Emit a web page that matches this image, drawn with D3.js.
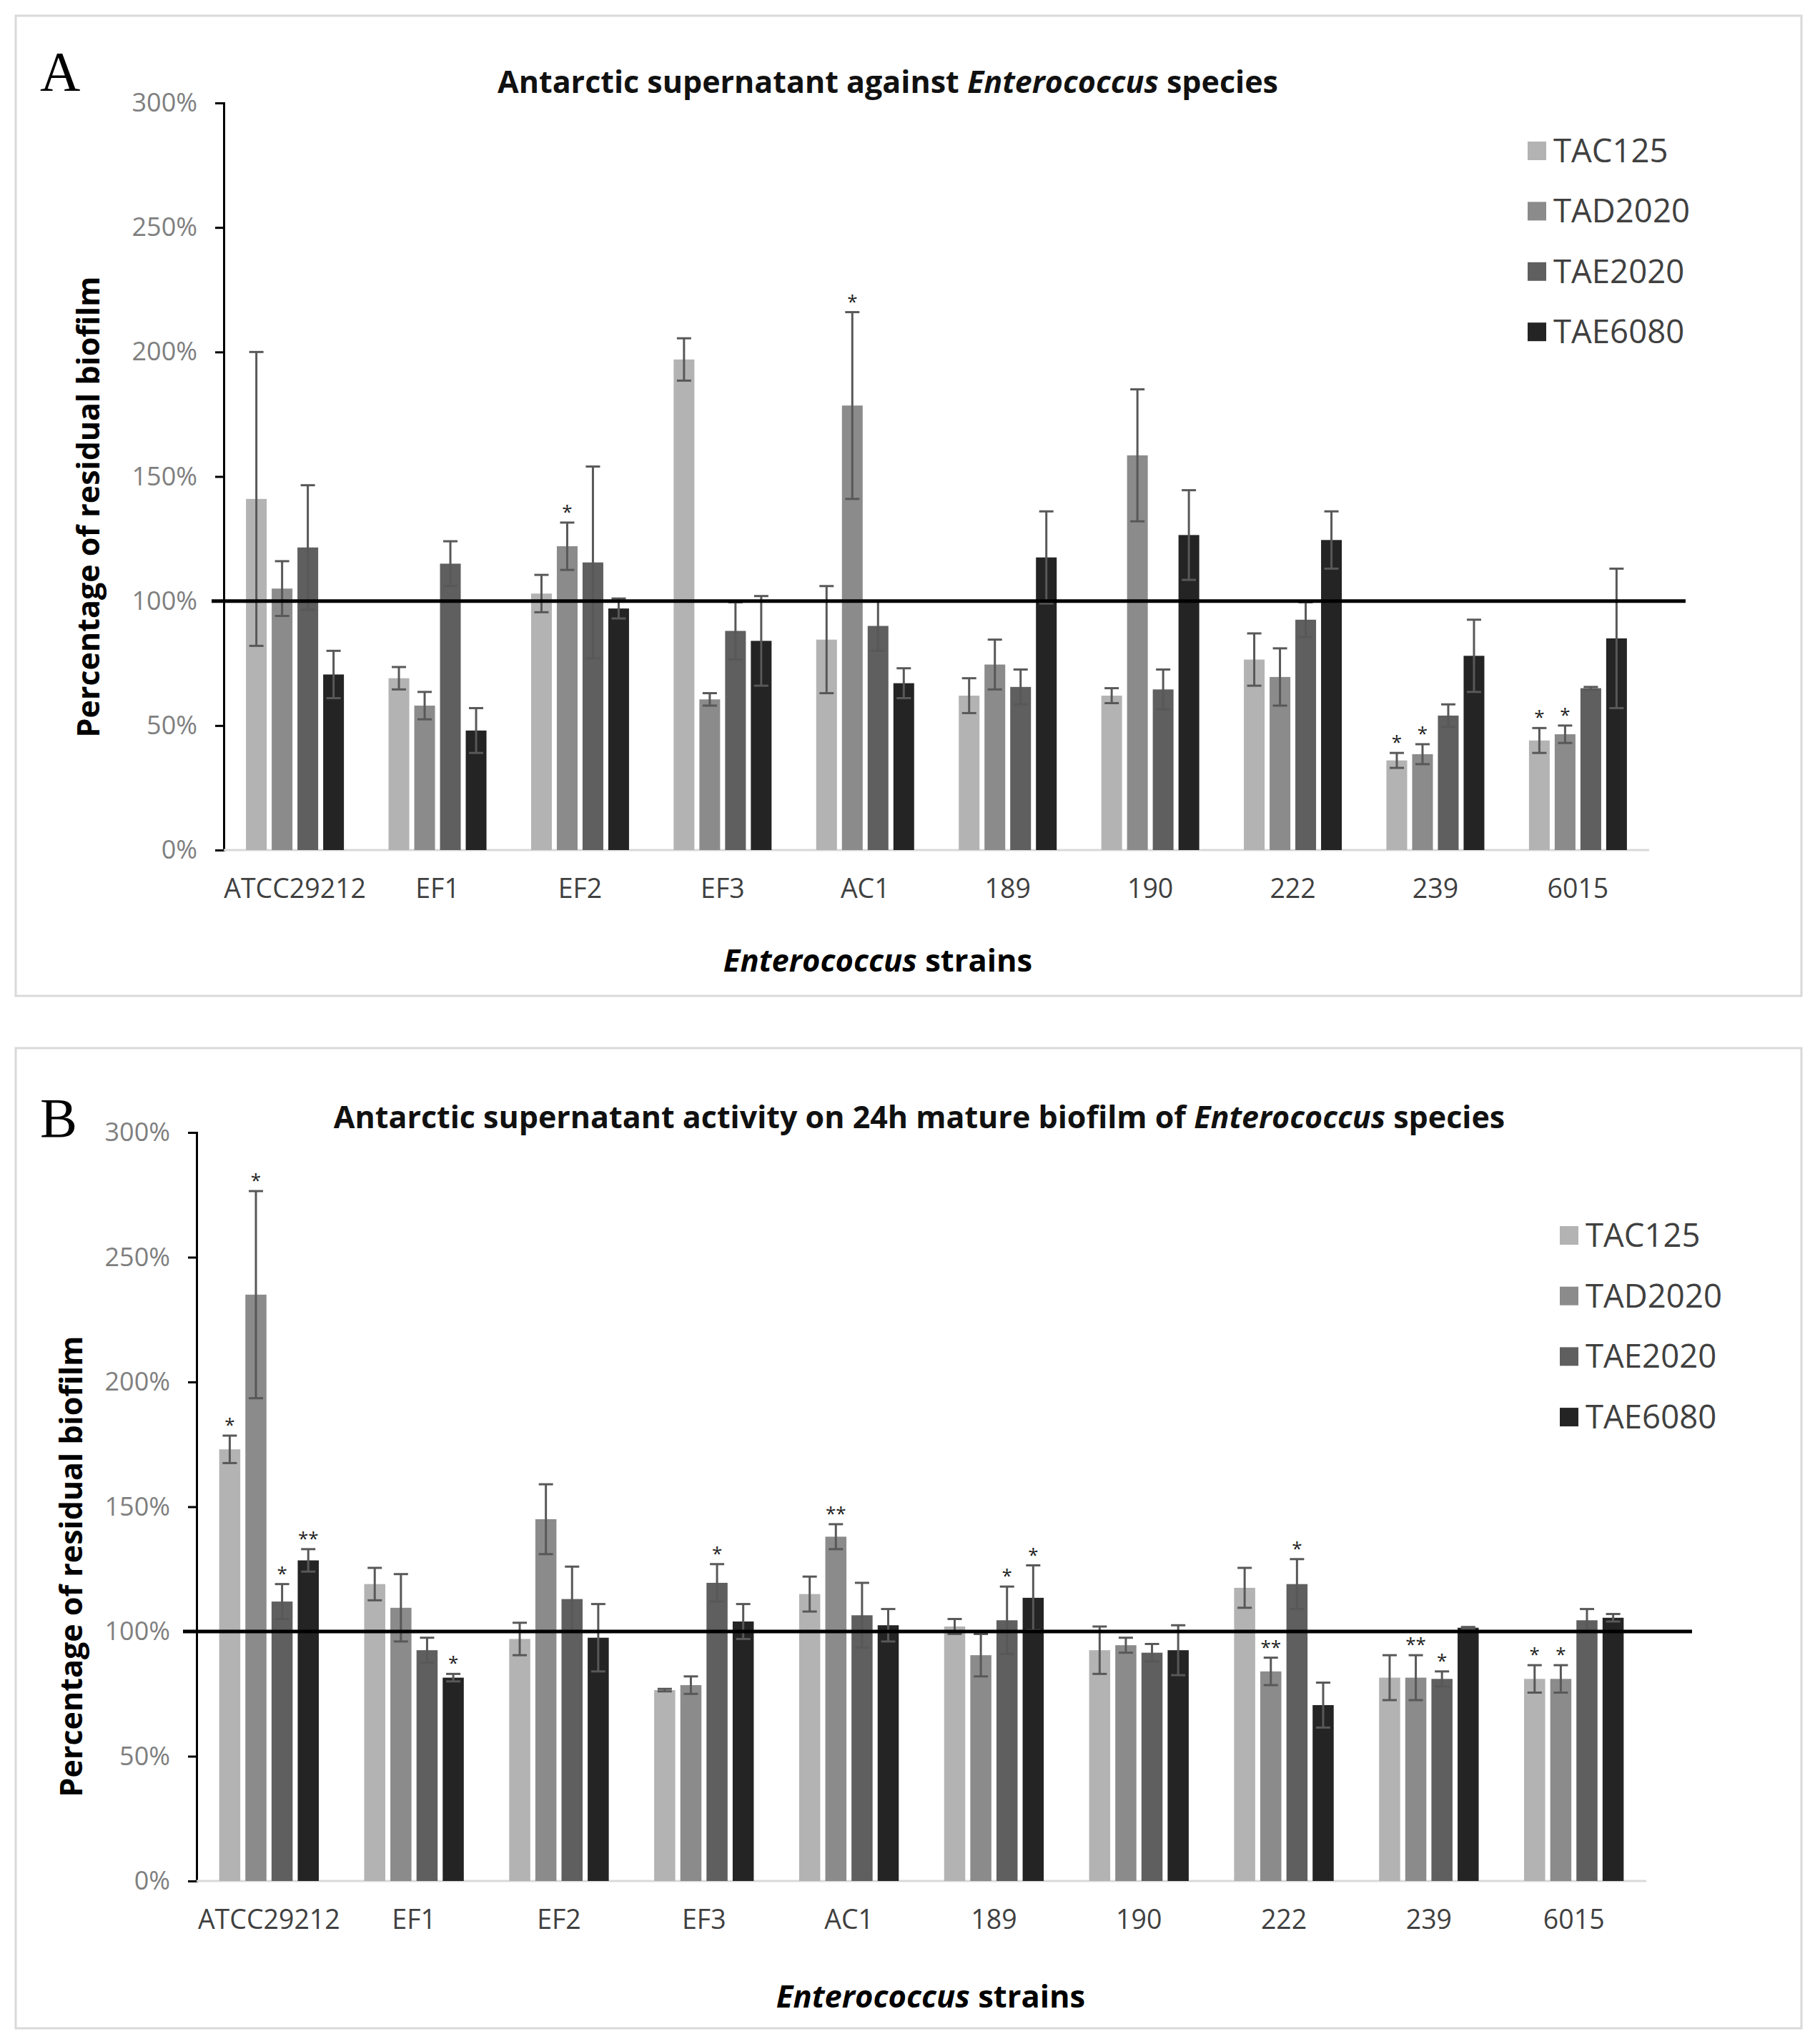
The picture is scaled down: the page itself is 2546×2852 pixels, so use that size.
<!DOCTYPE html>
<html>
<head>
<meta charset="utf-8">
<script src="https://d3js.org/d3.v7.min.js"></script>
<style>
  body { margin: 0; background: #fff; }
  svg { display: block; }
</style>
</head>
<body>
<div id="chart"></div>
<script>
// ---- data ----
var strains = ["ATCC29212", "EF1", "EF2", "EF3", "AC1", "189", "190", "222", "239", "6015"];
var seriesNames = ["TAC125", "TAD2020", "TAE2020", "TAE6080"];
var yTicks = [0, 50, 100, 150, 200, 250, 300];

// Panel A - values (% residual biofilm) and error bars
var a_TAC125  = [141, 69, 103, 197, 84.5, 62, 62, 76.5, 36, 44];
var a_TAD2020 = [105, 58, 122, 60.5, 178.5, 74.5, 158.5, 69.5, 38.5, 46.5];
var a_TAE2020 = [121.5, 115, 115.5, 88, 90, 65.5, 64.5, 92.5, 54, 65];
var a_TAE6080 = [70.5, 48, 97, 84, 67, 117.5, 126.5, 124.5, 78, 85];
var aErr_TAC125  = [59, 4.5, 7.5, 8.5, 21.5, 7, 3, 10.5, 3, 5];
var aErr_TAD2020 = [11, 5.5, 9.5, 2.5, 37.5, 10, 26.5, 11.5, 4, 3.5];
var aErr_TAE2020 = [25, 9, 38.5, 11.5, 10, 7, 8, 7, 4.5, 0.5];
var aErr_TAE6080 = [9.5, 9, 4, 18, 6, 18.5, 18, 11.5, 14.5, 28];
var aSig_TAC125  = ["", "", "", "", "", "", "", "", "*", "*"];
var aSig_TAD2020 = ["", "", "*", "", "*", "", "", "", "*", "*"];
var aSig_TAE2020 = ["", "", "", "", "", "", "", "", "", ""];
var aSig_TAE6080 = ["", "", "", "", "", "", "", "", "", ""];

// Panel B
var b_TAC125  = [173, 119, 97, 76.5, 115, 102, 92.5, 117.5, 81.5, 81];
var b_TAD2020 = [235, 109.5, 145, 78.5, 138, 90.5, 94.5, 84, 81.5, 81];
var b_TAE2020 = [112, 92.5, 113, 119.5, 106.5, 104.5, 91.5, 119, 81, 104.5];
var b_TAE6080 = [128.5, 81.5, 97.5, 104, 102.5, 113.5, 92.5, 70.5, 101.5, 105.5];
var bErr_TAC125  = [5.5, 6.5, 6.5, 0.5, 7, 3, 9.5, 8, 9, 5.5];
var bErr_TAD2020 = [41.5, 13.5, 14, 3.5, 5, 8.5, 3, 5.5, 9, 5.5];
var bErr_TAE2020 = [7, 5, 13, 7.5, 13, 13.5, 3.5, 10, 3, 4.5];
var bErr_TAE6080 = [4.5, 1.5, 13.5, 7, 6.5, 13, 10, 9, 0.3, 1.5];
var bSig_TAC125  = ["*", "", "", "", "", "", "", "", "", "*"];
var bSig_TAD2020 = ["*", "", "", "", "**", "", "", "**", "**", "*"];
var bSig_TAE2020 = ["*", "", "", "*", "", "*", "", "*", "*", ""];
var bSig_TAE6080 = ["**", "*", "", "", "", "*", "", "", "", ""];

var colors = ["#b3b3b3", "#8b8b8b", "#5f5f5f", "#242424"];

// ---- layout ----
var W = 2546, H = 2852;
var svg = d3.select("#chart").append("svg")
    .attr("width", W)
    .attr("height", H);

var fontSans = "'Open Sans', 'Noto Sans', sans-serif";

// build rows for one panel
function buildRows(vals, errs, sigs) {
    var rows = [];
    strains.forEach(function(s, i) {
        seriesNames.forEach(function(n, j) {
            rows.push({strain: s, series: n, idx: j, value: vals[j][i], err: errs[j][i], sig: sigs[j][i]});
        });
    });
    return rows;
}

function drawPanel(p) {
    var g = svg.append("g");

    // frame
    g.append("rect")
        .attr("x", p.frame[0]).attr("y", p.frame[1])
        .attr("width", p.frame[2]).attr("height", p.frame[3])
        .attr("fill", "#fff")
        .attr("stroke", "#d9d9d9")
        .attr("stroke-width", 3);

    // panel letter
    g.append("text")
        .attr("x", p.letterPos[0]).attr("y", p.letterPos[1])
        .attr("font-family", "'Liberation Serif', 'DejaVu Serif', serif")
        .attr("font-size", 78)
        .attr("fill", "#000")
        .text(p.letter);

    var x0 = d3.scaleBand()
        .domain(strains)
        .range([p.left, p.right])
        .paddingInner(0.313)
        .paddingOuter(0.156);

    var x1 = d3.scaleBand()
        .domain(seriesNames)
        .range([0, x0.bandwidth()])
        .paddingInner(0.194);

    var y = d3.scaleLinear()
        .domain([0, 300])
        .range([p.bottom, p.top]);

    // y axis
    var yAxis = g.append("g")
        .attr("transform", "translate(" + p.left + ",0)")
        .call(d3.axisLeft(y).tickValues(yTicks).tickSize(12).tickPadding(25)
            .tickFormat(function(d) { return d + "%"; }));
    yAxis.select(".domain").attr("stroke", "#000").attr("stroke-width", 3);
    yAxis.selectAll(".tick line").attr("stroke", "#000").attr("stroke-width", 3);
    yAxis.selectAll(".tick text")
        .attr("font-family", fontSans)
        .attr("font-size", 36)
        .attr("fill", "#7f7f7f");

    // x baseline
    g.append("line")
        .attr("x1", p.left).attr("x2", p.right)
        .attr("y1", y(0)).attr("y2", y(0))
        .attr("stroke", "#d9d9d9").attr("stroke-width", 3);

    // category labels
    var xAxis = g.append("g")
        .attr("transform", "translate(0," + y(0) + ")")
        .call(d3.axisBottom(x0).tickSize(0).tickPadding(40));
    xAxis.select(".domain").remove();
    xAxis.selectAll(".tick text")
        .attr("font-family", fontSans)
        .attr("font-size", 37.5)
        .attr("fill", "#404040");

    var rows = buildRows(p.vals, p.errs, p.sigs);

    // bars
    g.selectAll("rect.bar")
        .data(rows)
        .enter()
        .append("rect")
            .attr("class", "bar")
            .attr("x", function(d) { return x0(d.strain) + x1(d.series); })
            .attr("y", function(d) { return y(d.value); })
            .attr("width", x1.bandwidth())
            .attr("height", function(d) { return y(0) - y(d.value); })
            .attr("fill", function(d) { return colors[d.idx]; });

    // error bars
    var cap = 10;
    var eb = g.selectAll("g.err")
        .data(rows)
        .enter()
        .append("g")
            .attr("class", "err")
            .attr("stroke", "#585858")
            .attr("stroke-width", 3);
    eb.append("line")
        .attr("x1", function(d) { return x0(d.strain) + x1(d.series) + x1.bandwidth() / 2; })
        .attr("x2", function(d) { return x0(d.strain) + x1(d.series) + x1.bandwidth() / 2; })
        .attr("y1", function(d) { return y(d.value + d.err); })
        .attr("y2", function(d) { return y(d.value - d.err); });
    eb.append("line")
        .attr("x1", function(d) { return x0(d.strain) + x1(d.series) + x1.bandwidth() / 2 - cap; })
        .attr("x2", function(d) { return x0(d.strain) + x1(d.series) + x1.bandwidth() / 2 + cap; })
        .attr("y1", function(d) { return y(d.value + d.err); })
        .attr("y2", function(d) { return y(d.value + d.err); });
    eb.append("line")
        .attr("x1", function(d) { return x0(d.strain) + x1(d.series) + x1.bandwidth() / 2 - cap; })
        .attr("x2", function(d) { return x0(d.strain) + x1(d.series) + x1.bandwidth() / 2 + cap; })
        .attr("y1", function(d) { return y(d.value - d.err); })
        .attr("y2", function(d) { return y(d.value - d.err); });

    // significance stars
    g.selectAll("text.sig")
        .data(rows.filter(function(d) { return d.sig !== ""; }))
        .enter()
        .append("text")
            .attr("class", "sig")
            .attr("x", function(d) { return x0(d.strain) + x1(d.series) + x1.bandwidth() / 2; })
            .attr("y", function(d) { return y(d.value + d.err) - 6; })
            .attr("text-anchor", "middle")
            .attr("font-family", fontSans)
            .attr("font-size", 26)
            .attr("fill", "#222")
            .text(function(d) { return d.sig; });

    // 100% reference line
    g.append("line")
        .attr("x1", p.refLine[0]).attr("x2", p.refLine[1])
        .attr("y1", y(100)).attr("y2", y(100))
        .attr("stroke", "#000").attr("stroke-width", 5);

    // title
    var t = g.append("text")
        .attr("x", p.titlePos[0]).attr("y", p.titlePos[1])
        .attr("text-anchor", "middle")
        .attr("font-family", fontSans)
        .attr("font-weight", "bold")
        .attr("font-size", 43)
        .attr("fill", "#111");
    t.append("tspan").text(p.titleStart);
    t.append("tspan").attr("font-style", "italic").text("Enterococcus");
    t.append("tspan").text(" species");

    // y axis title
    g.append("text")
        .attr("transform", "translate(" + p.yTitlePos[0] + "," + p.yTitlePos[1] + ") rotate(-90)")
        .attr("text-anchor", "middle")
        .attr("dy", "0.35em")
        .attr("font-family", fontSans)
        .attr("font-weight", "bold")
        .attr("font-size", 43)
        .attr("fill", "#000")
        .text("Percentage of residual biofilm");

    // x axis title
    var xt = g.append("text")
        .attr("x", p.xTitlePos[0]).attr("y", p.xTitlePos[1])
        .attr("text-anchor", "middle")
        .attr("font-family", fontSans)
        .attr("font-weight", "bold")
        .attr("font-size", 43.5)
        .attr("fill", "#000");
    xt.append("tspan").attr("font-style", "italic").text("Enterococcus");
    xt.append("tspan").text(" strains");

    // legend
    var leg = g.selectAll("g.legend")
        .data(seriesNames)
        .enter()
        .append("g")
            .attr("class", "legend")
            .attr("transform", function(d, i) { return "translate(" + p.legendPos[0] + "," + (p.legendPos[1] + i * p.legendStep) + ")"; });
    leg.append("rect")
        .attr("x", 0).attr("y", -13)
        .attr("width", 26).attr("height", 26)
        .attr("fill", function(d, i) { return colors[i]; });
    leg.append("text")
        .attr("x", 36).attr("y", 0)
        .attr("dy", "0.35em")
        .attr("font-family", fontSans)
        .attr("font-size", 45.5)
        .attr("fill", "#404040")
        .text(function(d) { return d; });
}

drawPanel({
    letter: "A",
    frame: [22, 22, 2498, 1371],
    letterPos: [56, 126],
    left: 313, right: 2307, top: 144, bottom: 1189,
    refLine: [296, 2358],
    titleStart: "Antarctic supernatant against ",
    titlePos: [1242, 130],
    yTitlePos: [124, 709],
    xTitlePos: [1228, 1359],
    legendPos: [2137, 211], legendStep: 84.4,
    vals: [a_TAC125, a_TAD2020, a_TAE2020, a_TAE6080],
    errs: [aErr_TAC125, aErr_TAD2020, aErr_TAE2020, aErr_TAE6080],
    sigs: [aSig_TAC125, aSig_TAD2020, aSig_TAE2020, aSig_TAE6080]
});

drawPanel({
    letter: "B",
    frame: [22, 1466, 2498, 1371],
    letterPos: [56, 1590],
    left: 275, right: 2303, top: 1584, bottom: 2631,
    refLine: [256, 2367],
    titleStart: "Antarctic supernatant activity on 24h mature biofilm of ",
    titlePos: [1286, 1578],
    yTitlePos: [100, 2191],
    xTitlePos: [1302, 2808],
    legendPos: [2182, 1728], legendStep: 84.7,
    vals: [b_TAC125, b_TAD2020, b_TAE2020, b_TAE6080],
    errs: [bErr_TAC125, bErr_TAD2020, bErr_TAE2020, bErr_TAE6080],
    sigs: [bSig_TAC125, bSig_TAD2020, bSig_TAE2020, bSig_TAE6080]
});
</script>
</body>
</html>
